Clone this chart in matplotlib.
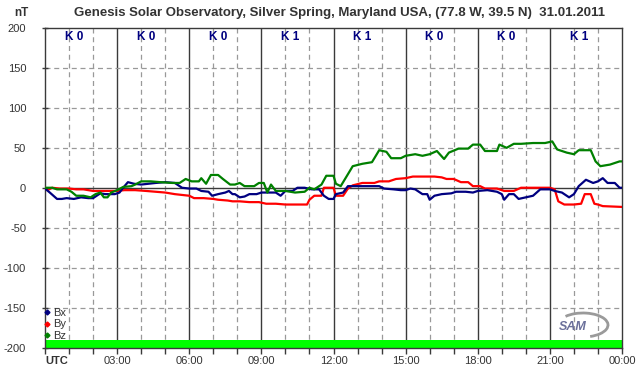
import matplotlib
matplotlib.use("Agg")
import matplotlib.pyplot as plt
from matplotlib.lines import Line2D
from matplotlib.patches import Arc

plt.rcParams['font.family'] = ['Liberation Sans', 'DejaVu Sans']

# ---------------- data (hours UTC, nT) ----------------
bx_t = [0.0, 0.2, 0.35, 0.5, 0.7, 0.9, 1.2, 1.5, 1.8, 2.0, 2.15, 2.3, 2.5, 2.7, 2.9, 3.1, 3.25, 3.45, 3.7,
        4.0, 4.3, 4.6, 5.0, 5.4, 5.7, 6.0, 6.3, 6.5, 6.8, 6.95, 7.2, 7.5, 7.65, 7.8,
        7.9, 8.1, 8.3, 8.5, 8.8, 9.0, 9.4, 9.6, 9.8, 10.0, 10.3, 10.5, 10.8, 11.1, 11.4, 11.6, 11.8,
        12.0, 12.1, 12.4, 12.6, 13.0, 13.5, 13.9, 14.1, 14.5, 14.8, 15.0, 15.2, 15.4, 15.6,
        15.7, 15.9, 16.0, 16.2, 16.5, 16.9, 17.1, 17.5, 17.8, 18.0, 18.4, 18.8, 19.0, 19.1, 19.3, 19.5, 19.7,
        20.0, 20.3, 20.6, 21.0, 21.2, 21.5, 21.8, 22.0, 22.2, 22.5, 22.8, 23.0, 23.2, 23.4, 23.7, 23.9, 24.0]
bx_v = [-1, -6, -10, -14, -14, -13, -14, -12, -13, -13, -10, -7, -8, -8, -8, -6, 0, 7, 5,
        4, 5, 6, 7, 6, 0, -1, -1, -4, -5, -10, -8, -6, -4, -8,
        -8, -12, -11, -8, -8, -6, -6, -6, -10, -4, -4, 0, 0, -2, -2, -10, -14,
        -14, -8, -6, 2, 2, 2, 2, -1, -2, -3, -3, -1, -2, -6,
        -8, -8, -15, -10, -8, -7, -5, -5, -6, -4, -3, -5, -8, -15, -8, -8, -14,
        -12, -10, -2, -2, -4, -6, -12, -8, 2, 10, 6, 8, 12, 6, 6, 0, 0]

by_t = [0.0, 0.1, 0.3, 0.6, 1.0, 1.3, 1.6, 2.0, 2.3, 2.7, 3.0, 3.3, 3.75, 4.2, 4.6, 5.0, 5.4, 5.7,
        6.0, 6.2, 6.6, 7.0, 7.2, 7.6, 7.8, 8.1, 8.5, 8.9, 9.2, 9.6, 10.0, 10.5, 10.9, 11.0, 11.2, 11.5,
        11.6, 11.9, 12.0, 12.1, 12.4, 12.6, 12.8, 13.2, 13.7, 13.9, 14.3, 14.6, 15.0, 15.3, 15.7,
        16.2, 16.5, 16.7, 17.0, 17.3, 17.6, 17.8, 18.1, 18.3, 18.8, 19.1, 19.5, 19.8, 20.5, 21.0,
        21.2, 21.35, 21.6, 22.0, 22.3, 22.45, 22.7, 22.85, 23.0, 23.2, 24.0]
by_v = [0, -3, 0, -1, -1, -2, -2, -4, -4, -4, -4, -3, -3, -4, -5, -6, -8, -9,
        -10, -13, -13, -14, -15, -16, -17, -17, -18, -18, -20, -20, -21, -21, -21, -15, -10, -10,
        0, 0, 0, -10, -10, -1, 3, 6, 6, 8, 8, 11, 12, 14, 14,
        14, 13, 11, 11, 7, 7, 2, 2, -1, -1, -4, -4, 0, 0, 0,
        -2, -17, -21, -21, -20, -8, -8, -20, -21, -23, -24]

bz_t = [0.0, 0.3, 0.5, 0.9, 1.1, 1.3, 1.6, 1.9, 2.1, 2.3, 2.45, 2.6, 2.75, 3.0, 3.25, 3.6, 3.75,
        4.0, 4.4, 4.8, 5.3, 5.6, 5.85, 6.1, 6.4, 6.5, 6.7, 6.9, 7.2, 7.4, 7.7, 7.9,
        8.1, 8.3, 8.7, 8.9, 9.1, 9.25, 9.4, 9.6, 10.0, 10.4, 10.8, 11.0, 11.2, 11.5, 11.7,
        12.0, 12.1, 12.3, 12.5, 12.8, 13.2, 13.6, 13.9, 14.2, 14.4, 14.8, 15.0, 15.4,
        15.7, 16.0, 16.3, 16.6, 16.8, 17.2, 17.6, 17.8, 18.1, 18.3, 18.8, 18.9, 19.2, 19.5, 19.8,
        20.3, 20.8, 21.1, 21.3, 21.7, 22.0, 22.2, 22.7, 22.9, 23.1, 23.5, 23.9, 24.0]
bz_v = [0, 0, -2, -2, -5, -10, -10, -12, -8, -6, -12, -12, -6, -3, 1, 2, 4,
        8, 8, 7, 6, 6, 11, 8, 8, 12, 5, 16, 16, 11, 4, 4,
        6, 2, 2, 6, 6, -6, 4, -4, -4, -6, -5, 0, -2, 4, 15,
        15, 5, 2, 12, 27, 30, 32, 47, 45, 37, 37, 40, 42,
        40, 42, 46, 36, 44, 49, 49, 54, 54, 46, 46, 54, 50, 55, 55,
        56, 56, 58, 48, 44, 42, 47, 47, 33, 27, 29, 33, 33]

k_labels = ["K 0", "K 0", "K 0", "K 1", "K 1", "K 0", "K 0", "K 1"]
hour_ticks = list(range(0, 25))
hour_labels = ["UTC" if h == 0 else ("%02d:00" % (h % 24) if h % 3 == 0 else "") for h in hour_ticks]
y_ticks = [-200, -150, -100, -50, 0, 50, 100, 150, 200]

# ---------------- figure ----------------
W, H = 642, 376
fig = plt.figure(figsize=(W / 100, H / 100), dpi=100)
ax = fig.add_axes([45 / W, 1 - 347.5 / H, 577 / W, 319.5 / H])

txt = '#333333'
ax.set_xlim(0, 24)
ax.set_ylim(-200, 200)

# grid
for h in hour_ticks[1:-1]:
    if h % 3 == 0:
        ax.axvline(h, color='#3a3a3a', lw=1.0, zorder=1)
    else:
        ax.axvline(h, color='#999999', lw=0.9, ls=(0, (4, 3)), zorder=1)
for y in y_ticks[1:-1]:
    if y == 0:
        ax.axhline(y, color='#3a3a3a', lw=1.0, zorder=1)
    else:
        ax.axhline(y, color='#999999', lw=0.9, ls=(0, (4, 3)), zorder=1)

ax.axhspan(-200, -191, color='#00ff00', lw=0, zorder=2)

lw = 1.6
ax.plot(by_t, by_v, color='#ff0000', lw=lw, zorder=3)
ax.plot(bx_t, bx_v, color='#000080', lw=lw, zorder=4)
ax.plot(bz_t, bz_v, color='#008000', lw=lw, zorder=5)

# K indices
for i, k in enumerate(k_labels):
    ax.text(3 * i + 1.2, 188.5, k, color='#000080', fontsize=8.5, fontweight='bold',
            ha='center', va='center', zorder=6)

# ticks
ax.set_xticks(hour_ticks)
ax.set_xticklabels(hour_labels)
ax.set_yticks(y_ticks)
ax.set_yticklabels([str(v) for v in y_ticks])
ax.tick_params(axis='x', direction='out', length=4, width=1, color='#3a3a3a', pad=2,
               labelsize=8, labelcolor=txt)
ax.tick_params(axis='y', direction='inout', length=5, width=1, color='#3a3a3a', pad=11,
               labelsize=8, labelcolor=txt)
tl = ax.get_xticklabels()
tl[0].set_fontweight('bold')
tl[0].set_ha('left')
for s in ax.spines.values():
    s.set_color('#3a3a3a')
    s.set_linewidth(1.0)

# legend
handles = [Line2D([], [], ls='none', marker='D', ms=2.5, color=c) for c in ['#000080', '#ff0000', '#008000']]
leg = ax.legend(handles, ['Bx', 'By', 'Bz'], loc='lower left', bbox_to_anchor=(-0.003, 0.02),
                frameon=False, handlelength=0.6, handletextpad=0.25, labelspacing=0.15,
                borderpad=0, borderaxespad=0, fontsize=8)
for t in leg.get_texts():
    t.set_color(txt)

# SAM logo
fig.text(573 / W, 1 - 327 / H, "SAM", fontsize=9, style='italic', color='#6a6f9a',
         ha='center', va='center', fontweight='bold')
fig.add_artist(Arc((583 / W, 1 - 325 / H), 50 / W, 24 / H, theta1=-70, theta2=140,
                   color='#9a9a9a', lw=2.0, transform=fig.transFigure))

# title & unit
fig.text(340 / W, 1 - 13 / H,
         "Genesis Solar Observatory, Silver Spring, Maryland USA, (77.8 W, 39.5 N)  31.01.2011",
         ha='center', va='center', fontsize=9.5, fontweight='bold', color=txt)
fig.text(21 / W, 1 - 13 / H, "nT", ha='center', va='center', fontsize=8.5, fontweight='bold', color=txt)

fig.savefig("out.png", dpi=100)
